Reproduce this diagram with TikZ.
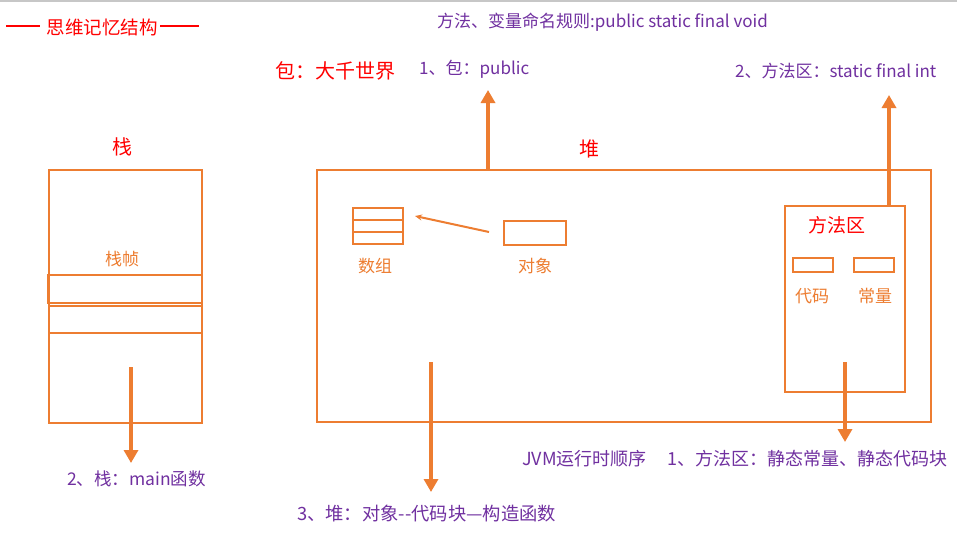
\documentclass[tikz,border=0pt]{standalone}
\usepackage{fontspec}
\setmainfont{Noto Sans CJK SC}
\usetikzlibrary{arrows.meta}
\definecolor{orangeC}{HTML}{ED7D31}
\definecolor{purpleC}{HTML}{7030A0}
\definecolor{redC}{HTML}{FF0000}
\begin{document}
\begin{tikzpicture}[x=1pt,y=-1pt,
  box/.style={draw=orangeC, line width=2pt, inner sep=0pt, outer sep=0pt, anchor=north west},
  ptxt/.style={text=purpleC, font=\fontsize{17}{19}\selectfont, inner sep=0pt, anchor=west},
  btxt/.style={ptxt, font=\fontsize{18}{20}\selectfont},
  otxt/.style={text=orangeC, font=\fontsize{17}{19}\selectfont, inner sep=0pt},
  rtxt/.style={text=redC, inner sep=0pt},
  bigarrow/.style={draw=orangeC, line width=4.5pt, -{Triangle[length=13pt,width=14pt]}},
  thinarrow/.style={draw=orangeC, line width=2pt, -{Stealth[length=7pt,width=6pt]}},
]
\useasboundingbox[fill=white] (0,0) rectangle (957,538);
\draw[black!22, line width=1.5pt] (0,0.75) -- (957,0.75);

% title
\node[rtxt, font=\fontsize{18.5}{20}\selectfont] (title) at (102,27) {思维记忆结构};
\coordinate (tl1) at (6,26); \coordinate (tl2) at (40,26);
\coordinate (tr1) at (160,26); \coordinate (tr2) at (199,26);
\draw[redC, line width=1.8pt] (tl1) -- (tl2);
\draw[redC, line width=1.8pt] (tr1) -- (tr2);

% top texts
\node[ptxt] (rules) at (437,22) {方法、变量命名规则:public static final void};
\node[rtxt, anchor=west, font=\fontsize{20}{22}\selectfont] (pkg) at (275,71) {包：大千世界};
\node[ptxt] (pub) at (419,69) {1、包：public};
\node[ptxt] (sfi) at (735,71) {2、方法区：static final int};

% stack
\node[rtxt, font=\fontsize{20}{22}\selectfont] (stacklbl) at (122,147) {栈};
\node[box, minimum width=153pt, minimum height=253pt] (stack) at (49,170) {};
\node[otxt] (frametxt) at (122,259) {栈帧};
\node[box, minimum width=154.5pt, minimum height=28pt] (frame1) at (47.5,275) {};
\node[box, minimum width=153pt, minimum height=27.5pt] (frame2) at (49,305.5) {};
\coordinate (sa) at (131,367); \coordinate (sb) at (131,463);
\draw[bigarrow] (sa) -- (sb);
\node[ptxt, font=\fontsize{17.5}{19}\selectfont] (maintxt) at (67,479) {2、栈：main函数};

% heap
\node[rtxt, font=\fontsize{20}{22}\selectfont] (heaplbl) at (589,149) {堆};
\node[box, minimum width=614pt, minimum height=252pt] (heap) at (317,170) {};
\coordinate (ha) at (488,170); \coordinate (hb) at (488,90);
\draw[bigarrow] (ha) -- (hb);

% array
\node[box, minimum width=50pt, minimum height=36pt] (arr) at (353,208) {};
\coordinate (arl1a) at (353,220); \coordinate (arl1b) at (403,220);
\coordinate (arl2a) at (353,232); \coordinate (arl2b) at (403,232);
\draw[orangeC, line width=2pt] (arl1a) -- (arl1b);
\draw[orangeC, line width=2pt] (arl2a) -- (arl2b);
\node[otxt] (arrtxt) at (375,266) {数组};

% object
\node[box, minimum width=62pt, minimum height=24pt] (obj) at (504,221) {};
\node[otxt] (objtxt) at (535,266) {对象};
\coordinate (oa) at (489,232); \coordinate (ob) at (415,216);
\draw[thinarrow] (oa) -- (ob);

% method area
\node[box, minimum width=120pt, minimum height=186pt] (marea) at (785,206) {};
\node[rtxt, font=\fontsize{19}{21}\selectfont] (mlbl) at (837,225) {方法区};
\node[box, minimum width=40pt, minimum height=14pt] (code) at (793,258) {};
\node[box, minimum width=40pt, minimum height=14pt] (const) at (854,258) {};
\node[otxt] (codetxt) at (812,296) {代码};
\node[otxt] (consttxt) at (875,296) {常量};
\coordinate (ma) at (889,206); \coordinate (mb) at (889,95);
\draw[bigarrow] (ma) -- (mb);
\coordinate (mc) at (845,362); \coordinate (md) at (845,442);
\draw[bigarrow] (mc) -- (md);

% heap down arrow
\coordinate (hc) at (431,362); \coordinate (hd) at (431,492);
\draw[bigarrow] (hc) -- (hd);

% bottom texts
\node[btxt] (jvm) at (522,459) {JVM运行时顺序\hspace{21pt}1、方法区：静态常量、静态代码块};
\node[btxt, font=\fontsize{18.3}{20}\selectfont] (heaptxt) at (297,514) {3、堆：对象{-}{-}代码块—构造函数};
\end{tikzpicture}
\end{document}
